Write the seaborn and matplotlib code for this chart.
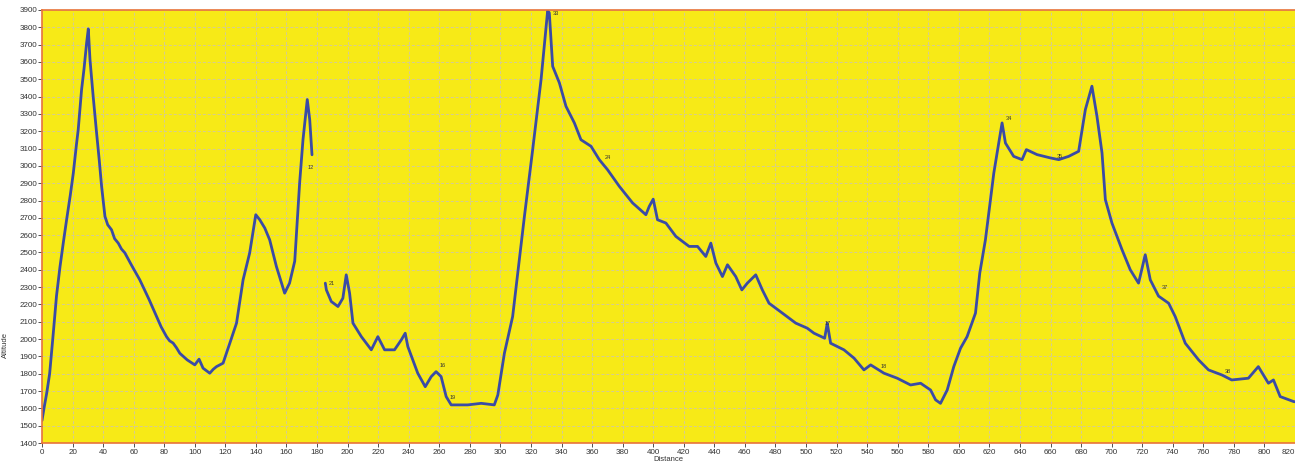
import matplotlib
matplotlib.use("Agg")
import matplotlib.pyplot as plt
import seaborn as sns
import pandas as pd

sns.set_theme(style="white")
plt.rcParams['font.family'] = ['Liberation Sans Narrow', 'Liberation Sans', 'DejaVu Sans']

# first stretch of the track (0 - 177)
seg1_dist = [0, 0.4, 1.5, 3.1, 5, 7.4, 9.5, 11.8, 14, 16.1, 18.5, 20.5, 22.5, 23.7,
             25.9, 27.5, 29.2, 30.3, 31.4, 33.5, 35.7, 37.5, 39, 41.2, 43, 45.5,
             47.5, 49.9, 52, 54.2, 59, 64, 70, 75, 78, 81.5, 83.5, 85.8, 88, 90.2,
             95, 100, 102.8, 105.4, 109.8, 112, 114.2, 118.5, 122.9, 127.3, 131.6,
             135.9, 139.9, 142.5, 145.8, 149, 153.4, 158.8, 162, 165.4, 168.6,
             170.8, 173.6, 175.2, 176.7]
seg1_alt = [1530, 1552, 1610, 1689, 1800, 2036, 2250, 2419, 2560, 2689, 2830, 2959,
            3120, 3209, 3440, 3560, 3710, 3791, 3614, 3400, 3192, 3030, 2882, 2708,
            2660, 2631, 2580, 2554, 2520, 2498, 2420, 2342, 2230, 2130, 2070, 2014,
            1990, 1977, 1950, 1918, 1880, 1851, 1884, 1832, 1803, 1825, 1841, 1861,
            1976, 2092, 2342, 2497, 2718, 2689, 2641, 2573, 2419, 2265, 2323, 2450,
            2901, 3151, 3383, 3267, 3064]

# second stretch (185 - 820)
seg2_dist = [185.4, 186.1, 189.3, 193.7, 196.9, 199.1, 201.3, 203.5, 209, 215.5,
             219.8, 224.2, 230.7, 235.1, 237.7, 239.4, 245.9, 250.8, 254.7, 257.9,
             261.2, 264.5, 267.8, 278.6, 287.4, 296, 298.3, 302.6, 308, 315.7, 321.1,
             326.6, 330.9, 332, 334.2, 338.6, 342.9, 348.4, 352.7, 359.3, 364.7,
             370.1, 377.8, 386.5, 395.2, 397.4, 400, 402.8, 408.3, 414.8, 423.5, 429,
             434.4, 437.7, 441, 445.3, 448.6, 454, 458, 461.6, 467.1, 471.4, 475.8,
             484.5, 493.3, 500.8, 505.2, 512.2, 513.9, 516.1, 524.8, 531.4, 537.9,
             542.3, 551, 559.7, 568.4, 575, 581.5, 584.8, 588, 592.4, 596.7, 601.1,
             605.4, 610.9, 613.7, 617.4, 622.9, 627.2, 628.3, 630.5, 635.9, 641.4,
             644.2, 651.2, 659.9, 665.4, 671.9, 678.4, 682.8, 687.1, 690.4, 693.7,
             695.9, 700.2, 706.8, 712.2, 717.6, 722, 725.3, 730.7, 737.3, 741.6,
             748.2, 756.9, 763.4, 772.1, 778.6, 789.5, 796, 802.6, 805.9, 810.3,
             819.2, 820]
seg2_alt = [2323, 2284, 2217, 2188, 2236, 2371, 2265, 2092, 2014, 1938, 2014, 1938,
            1938, 1995, 2034, 1957, 1803, 1725, 1783, 1812, 1783, 1668, 1620, 1620,
            1629, 1620, 1677, 1918, 2130, 2708, 3093, 3498, 3895, 3884, 3575, 3479,
            3344, 3248, 3151, 3113, 3036, 2978, 2882, 2786, 2718, 2766, 2808, 2689,
            2670, 2593, 2535, 2535, 2477, 2554, 2439, 2361, 2429, 2361, 2284, 2323,
            2371, 2284, 2207, 2150, 2092, 2063, 2034, 2005, 2092, 1976, 1938, 1890,
            1822, 1851, 1803, 1774, 1735, 1745, 1706, 1649, 1629, 1706, 1841, 1947,
            2014, 2150, 2381, 2573, 2959, 3190, 3248, 3132, 3055, 3036, 3094, 3065,
            3046, 3036, 3055, 3084, 3325, 3460, 3286, 3075, 2805, 2670, 2516, 2400,
            2323, 2487, 2342, 2248, 2207, 2130, 1976, 1880, 1822, 1793, 1764, 1774,
            1841, 1745, 1764, 1668, 1639, 1638]

# waypoint labels along the profile
wp_labels = ["12", "21", "16", "19", "33", "24", "17", "18", "34", "35", "37", "38"]
wp_dist = [172.5, 186.5, 259, 266, 333.5, 367, 511, 548, 629.5, 663, 732, 773]
wp_alt = [2990, 2320, 1845, 1660, 3880, 3050, 2090, 1840, 3275, 3055, 2300, 1810]

df = pd.concat([
    pd.DataFrame({"Distance": seg1_dist, "Altitude": seg1_alt, "seg": 1}),
    pd.DataFrame({"Distance": seg2_dist, "Altitude": seg2_alt, "seg": 2}),
])

fig = plt.figure(figsize=(12.95, 4.63), dpi=100)
ax = fig.add_axes([42 / 1295, 20 / 463, 1253 / 1295, 433 / 463])
ax.set_facecolor("#F7EA17")

sns.lineplot(data=df, x="Distance", y="Altitude", units="seg", estimator=None,
             sort=False, color="#3A4BA6", linewidth=2.0, ax=ax)

for lab, d, a in zip(wp_labels, wp_dist, wp_alt):
    ax.text(d + 1, a, lab, fontsize=4, color="#333333", va="center")

ax.set_xlim(0, 820)
ax.set_ylim(1400, 3900)
ax.set_xticks(range(0, 821, 20))
ax.set_yticks(range(1400, 3901, 100))
ax.grid(True, color="#D4CB95", linestyle=(0, (3, 2)), linewidth=0.7)
ax.tick_params(axis="both", labelsize=5.8, colors="#333333", length=3,
               width=0.6, pad=1, left=True, bottom=True)
ax.tick_params(axis="y", pad=0.5)

# last x label sits at the right edge of the figure
ax.get_xticklabels()[-1].set_horizontalalignment("right")

for side in ["top", "bottom", "left"]:
    ax.spines[side].set_color("#E8743A")
    ax.spines[side].set_linewidth(1.2)
ax.spines["right"].set_visible(False)

ax.set_xlabel("Distance", fontsize=5.5, color="#333333", labelpad=0)
ax.set_ylabel("Altitude", fontsize=5.5, color="#333333")
ax.yaxis.set_label_coords(-0.026, 0.226)

fig.savefig("out.png", dpi=100)
